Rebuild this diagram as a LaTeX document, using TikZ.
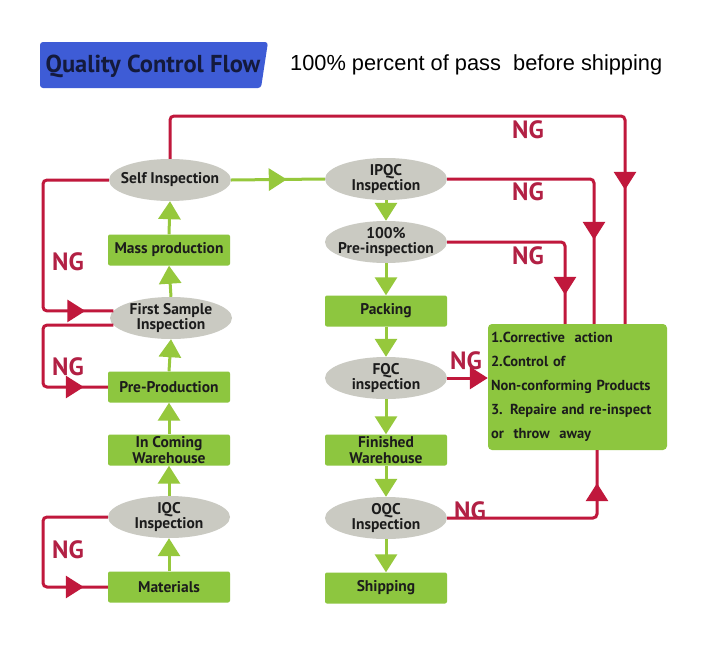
\documentclass[tikz,border=0pt]{standalone}
\usepackage{fontspec}
\setmainfont{PT Sans}
\newfontfamily\subfont{Liberation Sans}
\usetikzlibrary{arrows.meta,shapes.geometric,decorations.markings}
\definecolor{gfill}{RGB}{141,198,63}
\definecolor{gline}{RGB}{150,200,60}
\definecolor{efill}{RGB}{202,202,194}
\definecolor{redc}{RGB}{192,24,60}
\definecolor{ngc}{RGB}{178,32,68}
\definecolor{tblue}{RGB}{62,92,214}
\definecolor{tnavy}{RGB}{20,26,60}
\definecolor{txt}{RGB}{28,28,28}
\begin{document}
\begin{tikzpicture}[x=1pt,y=-1pt,
  lbl/.style={font=\fontsize{15.5}{15.5}\selectfont\bfseries, text=txt, align=center, inner sep=0pt},
  gbox/.style={lbl, rectangle, rounded corners=2pt, fill=gfill, minimum width=122pt, minimum height=31pt},
  gell/.style={lbl, ellipse, fill=efill, minimum width=122pt, minimum height=42pt, inner xsep=-14pt, inner ysep=-3pt},
  gl/.style={draw=gline, line width=3pt},
  gtip/.style={-{Triangle[width=22pt,length=18pt]}},
  rl/.style={draw=redc, line width=3pt, rounded corners=4pt},
  midarr/.style={postaction={decorate}, decoration={markings, mark=at position #1 with {\arrow{Triangle[width=22pt,length=18pt]}}}},
  ng/.style={font=\fontsize{25}{25}\selectfont\bfseries, text=ngc, inner sep=0pt}
]
\useasboundingbox (0,0) rectangle (710,667);
\fill[white] (0,0) rectangle (710,667);

% title
\fill[tblue, rounded corners=3pt] (40,42) -- (268,42) -- (261,88) -- (40,88) -- cycle;
\node[font=\fontsize{24.5}{24.5}\selectfont\bfseries, text=tnavy, inner sep=0pt] (title) at (153,66) {Quality Control Flow};
\node[font=\subfont\fontsize{21.8}{21.8}\selectfont, anchor=west, inner sep=0pt] (sub) at (290,65) {100\% percent of pass\ \ before shipping};

% left column
\node[gell] (self) at (170,180) {Self Inspection};
\node[gbox] (mass) at (169,250) {Mass production};
\node[gell] (fsi) at (171,318) {First Sample\\Inspection};
\node[gbox] (pre) at (169,387) {Pre-Production};
\node[gbox] (inw) at (169,450) {In Coming\\Warehouse};
\node[gell] (iqc) at (169,517) {IQC\\Inspection};
\node[gbox] (mat) at (169,587) {Materials};

% middle column
\node[gell] (ipqc) at (386,179) {IPQC\\Inspection};
\node[gell] (p100) at (386,242) {100\%\\Pre-inspection};
\node[gbox] (pack) at (386,311) {Packing};
\node[gell] (fqc) at (386,378) {FQC\\inspection};
\node[gbox] (fin) at (386,450) {Finished\\Warehouse};
\node[gell] (oqc) at (386,518) {OQC\\Inspection};
\node[gbox] (ship) at (386,588) {Shipping};

% corrective box
\node[rectangle, rounded corners=4pt, fill=gfill, minimum width=179pt, minimum height=126pt,
      text width=173pt, align=left, inner sep=3pt, text=txt,
      font=\fontsize{14.5}{24}\selectfont\bfseries] (ca) at (577.5,387)
  {1.Corrective\ \ action\\2.Control of\\Non-conforming Products\\3. Repaire and re-inspect\\or\ \ throw\ \ away};

% green arrows
\draw[gl,gtip] (mat.north) -- (iqc.south);
\draw[gl,gtip] (iqc.north) -- (inw.south);
\draw[gl,gtip] (inw.north) -- (pre.south);
\draw[gl,gtip] (pre.north) -- (fsi.south);
\draw[gl,gtip] (fsi.north) -- (mass.south);
\draw[gl,gtip] (mass.north) -- (self.south);
\draw[gl,gtip] (ipqc.south) -- (p100.north);
\draw[gl,gtip] (p100.south) -- (pack.north);
\draw[gl,gtip] (pack.south) -- (fqc.north);
\draw[gl,gtip] (fqc.south) -- (fin.north);
\draw[gl,gtip] (fin.south) -- (oqc.north);
\draw[gl,gtip] (oqc.south) -- (ship.north);
\draw[gl,gline,midarr=-38pt] (self.east) -- (ipqc.west);

% red coordinates
\coordinate (L) at (43,0);
\coordinate (r1) at (625,116);
\coordinate (r2) at (594,0);
\coordinate (r3) at (565,0);
\coordinate (r4) at (597,0);

% red lines
\draw[rl,redc,midarr=-134pt] (self.north) |- (r1) -- (ca.north -| r1);
\draw[rl,redc,midarr=-84pt] (ipqc.east) -| (ca.north -| r2);
\draw[rl,redc,midarr=-29pt] (p100.east) -| (ca.north -| r3);
\draw[rl,redc,-{Triangle[width=22pt,length=18pt]}] (fqc.east) -- (ca.west |- fqc.east);
\draw[rl,redc,midarr=-33pt] (oqc.east) -| (ca.south -| r4);
\draw[rl,redc,midarr=-28pt] (self.west) -- (self.west -| L) |- (fsi.173);
\draw[rl,redc,midarr=-24pt] (fsi.187) -- (fsi.187 -| L) |- (pre.west);
\draw[rl,redc,midarr=-24pt] (iqc.west) -- (iqc.west -| L) |- (mat.west);

% NG labels
\node[ng] (ng1) at (528,130) {NG};
\node[ng] (ng2) at (528,192) {NG};
\node[ng] (ng3) at (528,256) {NG};
\node[ng] (ng4) at (466,361) {NG};
\node[ng] (ng5) at (470,511) {NG};
\node[ng] (ng6) at (68,262) {NG};
\node[ng] (ng7) at (68,367) {NG};
\node[ng] (ng8) at (68,550) {NG};
\end{tikzpicture}
\end{document}
